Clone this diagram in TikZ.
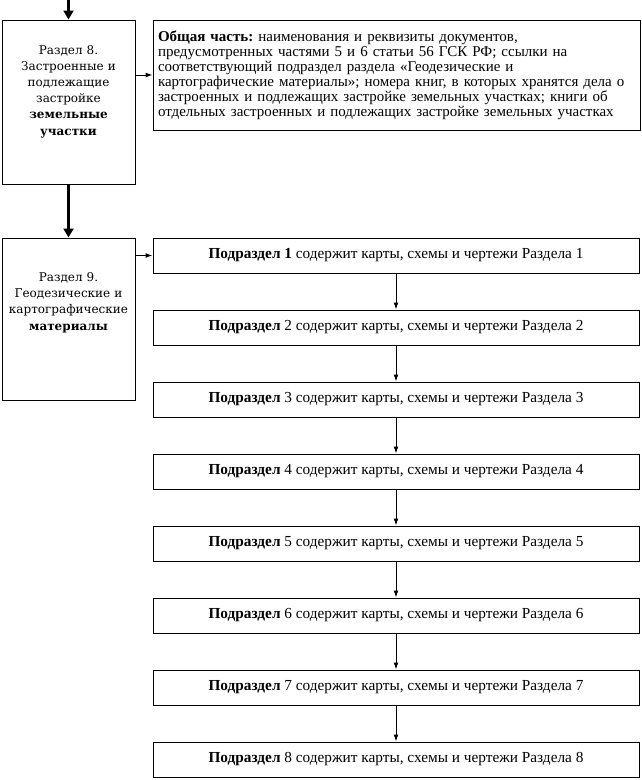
\documentclass[tikz,border=0pt]{standalone}
\usepackage{fontspec}
\setmainfont{Liberation Serif}
\newfontfamily\sectfont{DejaVu Serif}
\frenchspacing
\usetikzlibrary{arrows.meta}

\begin{document}
\begin{tikzpicture}
		[x=1pt,y=-1pt,line width=1pt,
		 box/.style={rectangle,draw=black,inner sep=0pt},
		 sect/.style={box,minimum width=133pt},
		 stext/.style={align=center,text width=125pt,inner sep=0pt,font=\sectfont\fontsize{12}{16.2}\selectfont},
		 sub/.style={box,minimum width=486pt,minimum height=35pt,font=\fontsize{15.3}{15.3}\selectfont},
		 big/.style={-{Triangle[width=10pt,length=9pt]},line width=3pt},
		 small/.style={-{Latex[width=5pt,length=7pt]}},
		 back/.style={{Latex[width=5pt,length=7pt]}-}]

		\useasboundingbox (0,0) rectangle (641,780);

		% left column
		\coordinate (top) at (68.5,0);

		\node[sect,minimum height=164pt] (b8) at (68.5,102) {};
		\node[stext] (t8) at (68.5,91.5) {Раздел 8.\\Застроенные и\\подлежащие\\застройке\\\textbf{земельные}\\\textbf{участки}};

		\node[sect,minimum height=162pt] (b9) at (68.5,319) {};
		\node[stext] (t9) at (68.5,302.5) {Раздел 9.\\Геодезические и\\картографические\\\textbf{материалы}};

		% general part
		\node[box,minimum width=487pt,minimum height=110pt,text width=477pt,inner xsep=5pt,align=left,
			font=\fontsize{15}{15.1}\selectfont] (gen) at (396.5,75)
			{\textbf{Общая часть:} наименования и реквизиты документов,\\
			предусмотренных частями 5 и 6 статьи 56 ГСК РФ; ссылки на\\
			соответствующий подраздел раздела «Геодезические и\\
			картографические материалы»; номера книг, в которых хранятся дела о\\
			застроенных и подлежащих застройке земельных участках; книги об\\
			отдельных застроенных и подлежащих застройке земельных участках};

		% subsections
		\node[sub] (s1) at (396,255.5) {\textbf{Подраздел 1} содержит карты, схемы и чертежи Раздела 1};
		\node[sub] (s2) at (396,327.5) {\textbf{Подраздел} 2 содержит карты, схемы и чертежи Раздела 2}
			edge [back] (s1);
		\node[sub] (s3) at (396,399.5) {\textbf{Подраздел} 3 содержит карты, схемы и чертежи Раздела 3}
			edge [back] (s2);
		\node[sub] (s4) at (396,471.5) {\textbf{Подраздел} 4 содержит карты, схемы и чертежи Раздела 4}
			edge [back] (s3);
		\node[sub] (s5) at (396,543.5) {\textbf{Подраздел} 5 содержит карты, схемы и чертежи Раздела 5}
			edge [back] (s4);
		\node[sub] (s6) at (396,615.5) {\textbf{Подраздел} 6 содержит карты, схемы и чертежи Раздела 6}
			edge [back] (s5);
		\node[sub] (s7) at (396,687.5) {\textbf{Подраздел} 7 содержит карты, схемы и чертежи Раздела 7}
			edge [back] (s6);
		\node[sub] (s8) at (396,759.5) {\textbf{Подраздел} 8 содержит карты, схемы и чертежи Раздела 8}
			edge [back] (s7);

		% connectors
		\draw[big] (top) -- (b8);
		\draw[big] (b8) -- (b9);
		\draw[small] (b8.east |- gen.west) -- (gen.west);
		\draw[small] (b9.east |- s1.west) -- (s1.west);

	\end{tikzpicture}
\end{document}
